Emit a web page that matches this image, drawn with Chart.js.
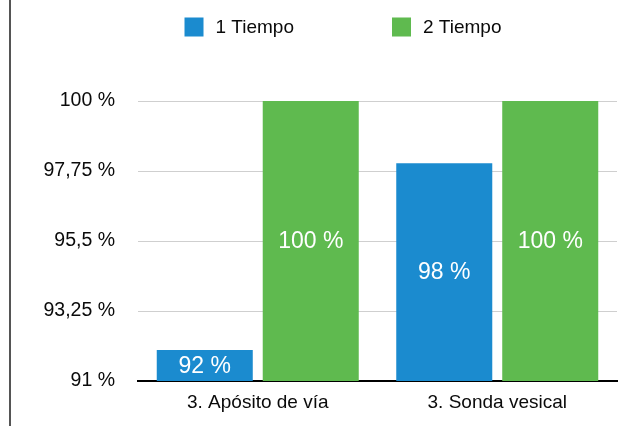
<!DOCTYPE html>
<html>
<head>
<meta charset="utf-8">
<script src="https://cdn.jsdelivr.net/npm/chart.js@4/dist/chart.umd.min.js"></script>
<style>
  html, body { margin: 0; padding: 0; background: #fff; }
  #wrap { position: relative; width: 632px; height: 426px; }
  #edge { position: absolute; left: 9px; top: 0; width: 2px; height: 426px; background: #555; }
</style>
</head>
<body>
<div id="wrap">
  <canvas id="chart"></canvas>
  <div id="edge"></div>
</div>
<script>
const categories = ["3. Apósito de vía", "3. Sonda vesical"];
const seriesNames = ["1 Tiempo", "2 Tiempo"];
const tiempo1 = [92, 98];
const tiempo2 = [100, 100];
const yTicks = [91, 93.25, 95.5, 97.75, 100];
const colors = ["#1b8bcf", "#5fba4f"];

const FONT = '"Liberation Sans", Arial, Helvetica, sans-serif';

function pct(v) {
  return String(v).replace(".", ",") + " %";
}

// white value labels in the middle of each bar, plus a hand-drawn legend
// (the gap between legend items is wider than the built-in legend allows)
const extras = {
  id: "extras",
  afterDraw(chart) {
    const ctx = chart.ctx;
    const yScale = chart.scales.y;
    ctx.save();
    ctx.fillStyle = "#ffffff";
    ctx.font = "23px " + FONT;
    ctx.textAlign = "center";
    ctx.textBaseline = "middle";
    chart.data.datasets.forEach((ds, i) => {
      chart.getDatasetMeta(i).data.forEach((bar, j) => {
        const top = yScale.getPixelForValue(ds.data[j]);
        const mid = (top + yScale.bottom) / 2;
        ctx.fillText(pct(ds.data[j]), bar.x, mid + 1);
      });
    });

    const box = 19, textGap = 12, itemGap = 98, centerX = 343, midY = 27;
    ctx.font = "19px " + FONT;
    ctx.textAlign = "left";
    const widths = chart.data.datasets.map(ds => ctx.measureText(ds.label).width);
    let total = 0;
    widths.forEach((w, i) => { total += box + textGap + w + (i ? itemGap : 0); });
    let x = centerX - total / 2;
    chart.data.datasets.forEach((ds, i) => {
      ctx.fillStyle = ds.backgroundColor;
      ctx.fillRect(x, midY - box / 2, box, box);
      ctx.fillStyle = "#0a0a0a";
      ctx.fillText(ds.label, x + box + textGap, midY + 1);
      x += box + textGap + widths[i] + itemGap;
    });
    ctx.restore();
  }
};

new Chart(document.getElementById("chart"), {
  type: "bar",
  data: {
    labels: categories,
    datasets: [
      { label: seriesNames[0], data: tiempo1, backgroundColor: colors[0] },
      { label: seriesNames[1], data: tiempo2, backgroundColor: colors[1] }
    ]
  },
  options: {
    responsive: true,
    maintainAspectRatio: false,
    animation: false,
    categoryPercentage: 0.885,
    barPercentage: 0.906,
    layout: { padding: { top: 101, right: 15, left: 0, bottom: 0 } },
    plugins: {
      legend: { display: false },
      tooltip: { enabled: false }
    },
    scales: {
      x: {
        grid: { display: false, drawTicks: false },
        border: { display: true, color: "#000", width: 2 },
        ticks: { color: "#0a0a0a", font: { family: FONT, size: 19 }, padding: 10 },
        afterFit(scale) { scale.height = 45; }
      },
      y: {
        min: 91,
        max: 100,
        grid: { color: "#cfcfcf", lineWidth: 1, drawTicks: false },
        border: { display: false },
        ticks: {
          color: "#0a0a0a",
          font: { family: FONT, size: 19.5 },
          padding: 23,
          callback: v => pct(v)
        },
        afterBuildTicks(scale) { scale.ticks = yTicks.map(v => ({ value: v })); },
        afterFit(scale) { scale.width = 138; }
      }
    }
  },
  plugins: [extras]
});
</script>
</body>
</html>
